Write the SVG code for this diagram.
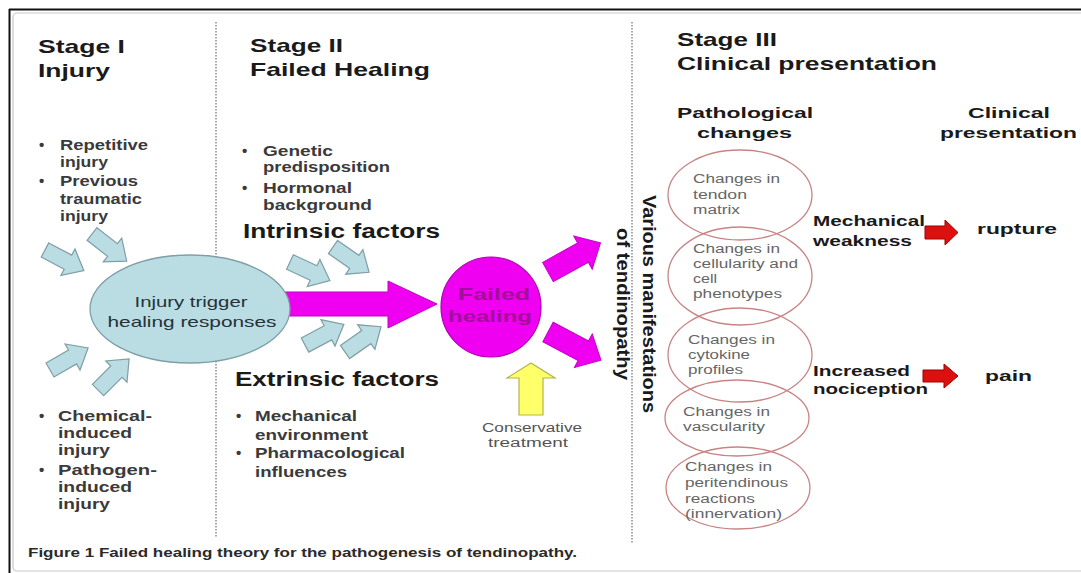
<svg xmlns="http://www.w3.org/2000/svg" xmlns:xlink="http://www.w3.org/1999/xlink" width="1081" height="573" viewBox="0 0 1081 573">
<style>
text{font-family:"Liberation Sans",Arial,sans-serif;}
.h{font-size:19px;font-weight:bold;fill:#1a1a1a;}
.f{font-size:20px;font-weight:bold;fill:#1a1a1a;}
.b{font-size:15px;font-weight:bold;fill:#3a3a3a;}
.s{font-size:15px;font-weight:bold;fill:#1a1a1a;}
.e{font-size:12px;fill:#666;}
.c{font-size:12px;fill:#555;}
.dot{stroke:#8a8a8a;stroke-width:1.5;stroke-dasharray:1.5 1.5;fill:none;}
.lb{fill:#b9dde3;stroke:#7f9ea5;stroke-width:1.2;}
.mg{fill:#f000f0;stroke:#c400c4;stroke-width:1;}
.pe{fill:none;stroke:#c88484;stroke-width:1.3;}
.rd{fill:#dd1010;stroke:#a00000;stroke-width:1;}
.yl{fill:#ffff6a;stroke:#b4b44a;stroke-width:1.2;}
</style>
<defs>
<path id="sb" d="M0,-8 L26,-8 L26,-15 L44,0 L26,15 L26,8 L0,8 Z"/>
<path id="mg" d="M0,-11 L40,-11 L40,-19 L60,0 L40,19 L40,11 L0,11 Z"/>
</defs>
<rect x="0" y="0" width="1081" height="573" fill="#fff"/>
<g id="frame">
<rect x="13" y="13" width="1080" height="558" rx="4" fill="none" stroke="#c8c8c8" stroke-width="1.2"/>
<line x1="9" y1="9.5" x2="1081" y2="9.5" stroke="#111" stroke-width="2"/>
<line x1="9.5" y1="9" x2="9.5" y2="573" stroke="#111" stroke-width="2"/>
<line class="dot" x1="216" y1="22" x2="216" y2="537"/>
<line class="dot" x1="632" y1="22" x2="632" y2="543"/>
</g>
<g id="connectors">
<path class="mg" d="M283,292 L388,292 L388,281 L437,304 L388,328 L388,316 L283,316 Z"/>
<use xlink:href="#mg" class="mg" transform="translate(548,272) rotate(-29)"/>
<use xlink:href="#mg" class="mg" transform="translate(548,332) rotate(28)"/>
<path class="yl" d="M519,415 L519,378 L507,378 L531,363 L555,378 L543,378 L543,415 Z"/>
<path class="rd" d="M925,226 L945,226 L945,220 L958,232.5 L945,245 L945,239 L925,239 Z"/>
<path class="rd" d="M923,370 L944,370 L944,364 L958,376 L944,388 L944,382 L923,382 Z"/>
<use xlink:href="#sb" class="lb" transform="translate(45,250) rotate(28)"/>
<use xlink:href="#sb" class="lb" transform="translate(92,234) rotate(38)"/>
<use xlink:href="#sb" class="lb" transform="translate(50,370) rotate(-30)"/>
<use xlink:href="#sb" class="lb" transform="translate(98,390) rotate(-45)"/>
<use xlink:href="#sb" class="lb" transform="translate(290,262) rotate(25)"/>
<use xlink:href="#sb" class="lb" transform="translate(333,247) rotate(35)"/>
<use xlink:href="#sb" class="lb" transform="translate(305,345) rotate(-28)"/>
<use xlink:href="#sb" class="lb" transform="translate(345,352) rotate(-35)"/>
</g>
<g id="stage1">
<text class="h" x="38" y="53" textLength="87" lengthAdjust="spacingAndGlyphs">Stage I</text>
<text class="h" x="38" y="77" textLength="72" lengthAdjust="spacingAndGlyphs">Injury</text>
<text class="b" x="39" y="150">•</text>
<text class="b" x="60" y="150" textLength="88" lengthAdjust="spacingAndGlyphs">Repetitive</text>
<text class="b" x="60" y="167" textLength="48" lengthAdjust="spacingAndGlyphs">injury</text>
<text class="b" x="39" y="186">•</text>
<text class="b" x="60" y="186" textLength="78" lengthAdjust="spacingAndGlyphs">Previous</text>
<text class="b" x="60" y="204" textLength="82" lengthAdjust="spacingAndGlyphs">traumatic</text>
<text class="b" x="60" y="221" textLength="48" lengthAdjust="spacingAndGlyphs">injury</text>
<text class="b" x="39" y="421">•</text>
<text class="b" x="58" y="421" textLength="94" lengthAdjust="spacingAndGlyphs">Chemical-</text>
<text class="b" x="58" y="438" textLength="74" lengthAdjust="spacingAndGlyphs">induced</text>
<text class="b" x="58" y="455" textLength="52" lengthAdjust="spacingAndGlyphs">injury</text>
<text class="b" x="39" y="475">•</text>
<text class="b" x="58" y="475" textLength="99" lengthAdjust="spacingAndGlyphs">Pathogen-</text>
<text class="b" x="58" y="492" textLength="74" lengthAdjust="spacingAndGlyphs">induced</text>
<text class="b" x="58" y="509" textLength="52" lengthAdjust="spacingAndGlyphs">injury</text>
</g>
<g id="injury-trigger">
<ellipse cx="190" cy="309" rx="100" ry="54" fill="#b9dde3" stroke="#7f9ea5" stroke-width="1.3"/>
<text x="191" y="307" text-anchor="middle" font-size="15" fill="#263238" textLength="113" lengthAdjust="spacingAndGlyphs">Injury trigger</text>
<text x="192" y="327" text-anchor="middle" font-size="15" fill="#263238" textLength="169" lengthAdjust="spacingAndGlyphs">healing responses</text>
</g>
<g id="stage2">
<text class="h" x="250" y="52" textLength="93" lengthAdjust="spacingAndGlyphs">Stage II</text>
<text class="h" x="250" y="76" textLength="180" lengthAdjust="spacingAndGlyphs">Failed Healing</text>
<text class="b" x="242" y="156">•</text>
<text class="b" x="263" y="156" textLength="70" lengthAdjust="spacingAndGlyphs">Genetic</text>
<text class="b" x="263" y="172" textLength="127" lengthAdjust="spacingAndGlyphs">predisposition</text>
<text class="b" x="242" y="193">•</text>
<text class="b" x="263" y="193" textLength="89" lengthAdjust="spacingAndGlyphs">Hormonal</text>
<text class="b" x="263" y="210" textLength="109" lengthAdjust="spacingAndGlyphs">background</text>
<text class="f" x="243" y="238" textLength="197" lengthAdjust="spacingAndGlyphs">Intrinsic factors</text>
<text class="f" x="235" y="386" textLength="204" lengthAdjust="spacingAndGlyphs">Extrinsic factors</text>
<text class="b" x="236" y="421">•</text>
<text class="b" x="255" y="421" textLength="102" lengthAdjust="spacingAndGlyphs">Mechanical</text>
<text class="b" x="255" y="440" textLength="113" lengthAdjust="spacingAndGlyphs">environment</text>
<text class="b" x="236" y="458">•</text>
<text class="b" x="255" y="458" textLength="150" lengthAdjust="spacingAndGlyphs">Pharmacological</text>
<text class="b" x="255" y="477" textLength="92" lengthAdjust="spacingAndGlyphs">influences</text>
</g>
<g id="failed-healing">
<circle cx="491" cy="307" r="50" fill="#f000f0" stroke="#b000b0" stroke-width="1.2"/>
<text x="494" y="300" text-anchor="middle" font-size="17" font-weight="bold" fill="#a0109a" textLength="72" lengthAdjust="spacingAndGlyphs">Failed</text>
<text x="490" y="322" text-anchor="middle" font-size="17" font-weight="bold" fill="#a0109a" textLength="84" lengthAdjust="spacingAndGlyphs">healing</text>
</g>
<g id="conservative-treatment">
<text class="c" x="532" y="432" text-anchor="middle" textLength="100" lengthAdjust="spacingAndGlyphs">Conservative</text>
<text class="c" x="528" y="447" text-anchor="middle" textLength="80" lengthAdjust="spacingAndGlyphs">treatment</text>
</g>
<g id="manifestations">
<text font-size="19" font-weight="bold" fill="#1a1a1a" transform="translate(643,195) rotate(90)" textLength="218" lengthAdjust="spacingAndGlyphs">Various manifestations</text>
<text font-size="19" font-weight="bold" fill="#1a1a1a" transform="translate(617,228) rotate(90)" textLength="152" lengthAdjust="spacingAndGlyphs">of tendinopathy</text>
</g>
<g id="stage3">
<text class="h" x="677" y="46" textLength="100" lengthAdjust="spacingAndGlyphs">Stage III</text>
<text class="h" x="677" y="70" textLength="260" lengthAdjust="spacingAndGlyphs">Clinical presentation</text>
<text class="s" x="677" y="118" textLength="136" lengthAdjust="spacingAndGlyphs">Pathological</text>
<text class="s" x="697" y="138" textLength="95" lengthAdjust="spacingAndGlyphs">changes</text>
<text class="s" x="968" y="118" textLength="82" lengthAdjust="spacingAndGlyphs">Clinical</text>
<text class="s" x="940" y="138" textLength="137" lengthAdjust="spacingAndGlyphs">presentation</text>
</g>
<g id="change-matrix">
<ellipse class="pe" cx="740" cy="195" rx="72" ry="45"/>
<text class="e" x="693" y="183" textLength="87" lengthAdjust="spacingAndGlyphs">Changes in</text>
<text class="e" x="693" y="199" textLength="54" lengthAdjust="spacingAndGlyphs">tendon</text>
<text class="e" x="693" y="214" textLength="47" lengthAdjust="spacingAndGlyphs">matrix</text>
</g>
<g id="change-cellularity">
<ellipse class="pe" cx="740" cy="276" rx="72" ry="49"/>
<text class="e" x="693" y="253" textLength="87" lengthAdjust="spacingAndGlyphs">Changes in</text>
<text class="e" x="693" y="268" textLength="105" lengthAdjust="spacingAndGlyphs">cellularity and</text>
<text class="e" x="693" y="283" textLength="24" lengthAdjust="spacingAndGlyphs">cell</text>
<text class="e" x="693" y="298" textLength="89" lengthAdjust="spacingAndGlyphs">phenotypes</text>
</g>
<g id="change-cytokine">
<ellipse class="pe" cx="740" cy="355" rx="72" ry="47"/>
<text class="e" x="688" y="344" textLength="87" lengthAdjust="spacingAndGlyphs">Changes in</text>
<text class="e" x="688" y="359" textLength="62" lengthAdjust="spacingAndGlyphs">cytokine</text>
<text class="e" x="688" y="374" textLength="55" lengthAdjust="spacingAndGlyphs">profiles</text>
</g>
<g id="change-vascularity">
<ellipse class="pe" cx="737" cy="418" rx="72" ry="38"/>
<text class="e" x="683" y="416" textLength="87" lengthAdjust="spacingAndGlyphs">Changes in</text>
<text class="e" x="683" y="431" textLength="82" lengthAdjust="spacingAndGlyphs">vascularity</text>
</g>
<g id="change-peritendinous">
<ellipse class="pe" cx="738" cy="488" rx="72" ry="41"/>
<text class="e" x="685" y="471" textLength="87" lengthAdjust="spacingAndGlyphs">Changes in</text>
<text class="e" x="685" y="487" textLength="103" lengthAdjust="spacingAndGlyphs">peritendinous</text>
<text class="e" x="685" y="503" textLength="70" lengthAdjust="spacingAndGlyphs">reactions</text>
<text class="e" x="685" y="518" textLength="97" lengthAdjust="spacingAndGlyphs">(innervation)</text>
</g>
<g id="mechanical-weakness">
<text class="s" x="813" y="226" textLength="112" lengthAdjust="spacingAndGlyphs">Mechanical</text>
<text class="s" x="813" y="246" textLength="99" lengthAdjust="spacingAndGlyphs">weakness</text>
</g>
<g id="rupture">
<text class="s" x="977" y="234" textLength="80" lengthAdjust="spacingAndGlyphs">rupture</text>
</g>
<g id="increased-nociception">
<text class="s" x="813" y="376" textLength="97" lengthAdjust="spacingAndGlyphs">Increased</text>
<text class="s" x="813" y="394" textLength="115" lengthAdjust="spacingAndGlyphs">nociception</text>
</g>
<g id="pain">
<text class="s" x="985" y="381" textLength="47" lengthAdjust="spacingAndGlyphs">pain</text>
</g>
<g id="caption">
<text x="28" y="557" font-size="13" font-weight="bold" fill="#2a2a2a" textLength="549" lengthAdjust="spacingAndGlyphs">Figure 1 Failed healing theory for the pathogenesis of tendinopathy.</text>
</g>
</svg>
